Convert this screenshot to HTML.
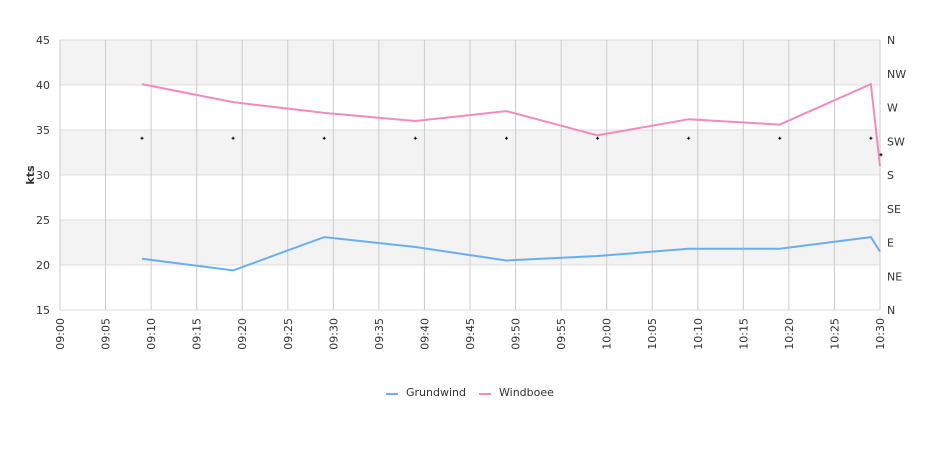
<!DOCTYPE html>
<html><head><meta charset="utf-8"><style>
body{margin:0;background:#fff;width:940px;height:450px;overflow:hidden;font-family:"Liberation Sans","DejaVu Sans",sans-serif}
svg text{font-family:"DejaVu Sans","Liberation Sans",sans-serif;font-size:11px;fill:#333}
</style></head><body>
<svg id="chart" width="940" height="450" xmlns="http://www.w3.org/2000/svg">
<g id="bands"></g><g id="grid"></g><g id="axes"></g><g id="series"></g><g id="legend"></g>
</svg>
<script>
const times=["09:09","09:19","09:29","09:39","09:49","09:59","10:09","10:19","10:29","10:30"];
const grundwind=[20.7,19.4,23.1,22.0,20.5,21.0,21.8,21.8,23.1,21.5];
const windboee=[40.1,38.1,36.9,36.0,37.1,34.4,36.2,35.6,40.1,31.0];
const direction=[229,229,229,229,229,229,229,229,229,207];
const yTicks=[15,20,25,30,35,40,45];
const dirLabels=["N","NE","E","SE","S","SW","W","NW","N"];
const xTicks=["09:00","09:05","09:10","09:15","09:20","09:25","09:30","09:35","09:40","09:45","09:50","09:55","10:00","10:05","10:10","10:15","10:20","10:25","10:30"];
const NS="http://www.w3.org/2000/svg";
const X0=60,X1=880,Y0=310,Y1=40;
function mins(t){const p=t.split(":");return (+p[0])*60+(+p[1])-540;}
function x(t){return X0+mins(t)/90*(X1-X0);}
function y(v){return Y0-(v-15)/30*(Y0-Y1);}
function yd(d){return Y0-d/360*(Y0-Y1);}
function el(tag,attrs,parent){const e=document.createElementNS(NS,tag);for(const k in attrs)e.setAttribute(k,attrs[k]);document.getElementById(parent).appendChild(e);return e;}
[[40,45],[30,35],[20,25]].forEach(b=>{const r=el("rect",{x:X0,y:y(b[1]),width:X1-X0,height:y(b[0])-y(b[1]),fill:"#f3f3f3"},"bands");

});
yTicks.forEach(v=>{const l=el("line",{x1:X0,x2:X1,y1:y(v),y2:y(v),stroke:"#ddd"},"grid");


const t=el("text",{x:50,y:y(v)+4,"text-anchor":"end"},"axes");t.textContent=v;

});
xTicks.forEach(tk=>{const l=el("line",{x1:x(tk),x2:x(tk),y1:Y1,y2:Y0,stroke:"#ccc"},"grid");


const t=el("text",{x:0,y:0,transform:`translate(${x(tk)+4},${Y0+8}) rotate(-90)`,"text-anchor":"end"},"axes");t.textContent=tk;

});
dirLabels.forEach((d,i)=>{const t=el("text",{x:887,y:yd(i*45)+4},"axes");t.textContent=d;

});
const yt=el("text",{x:0,y:0,transform:"translate(34,175) rotate(-90)","text-anchor":"middle","font-size":"13","font-weight":"bold"},"axes");yt.textContent="kts";


function line(vals,color,name){const p=el("polyline",{points:vals.map((v,i)=>x(times[i])+","+y(v)).join(" "),fill:"none",stroke:color,"stroke-width":2},"series");

}
line(grundwind,"#6aaef0","grundwind-line");
line(windboee,"#f18bbf","windboee-line");
direction.forEach((d,i)=>{const px=x(times[i])+(i==times.length-1?1:0),py=yd(d);
const g=el("path",{d:`M${px-1.5},${py}H${px+1.5}M${px},${py-1.5}V${py+1.5}`,stroke:"#000","stroke-width":1},"series");

});
[["Grundwind","#6aaef0",386],["Windboee","#f18bbf",479]].forEach(L=>{
const g=el("g",{},"legend");


const ln=document.createElementNS(NS,"line");ln.setAttribute("x1",L[2]);ln.setAttribute("x2",L[2]+12);ln.setAttribute("y1",394);ln.setAttribute("y2",394);ln.setAttribute("stroke",L[1]);ln.setAttribute("stroke-width",2);g.appendChild(ln);
const t=document.createElementNS(NS,"text");t.setAttribute("x",L[2]+20);t.setAttribute("y",396);t.textContent=L[0];g.appendChild(t);});
</script>
</body></html>
